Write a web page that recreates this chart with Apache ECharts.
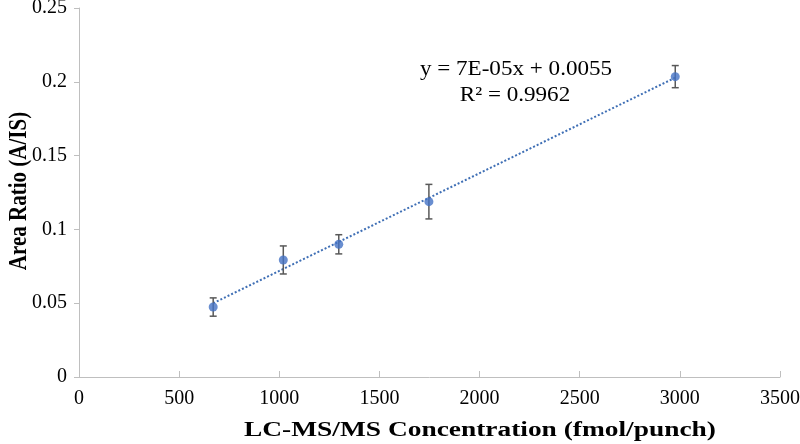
<!DOCTYPE html>
<html><head><meta charset="utf-8">
<script src="https://cdn.jsdelivr.net/npm/echarts@6/dist/echarts.min.js"></script>
<style>html,body{margin:0;padding:0;background:#fff}#c{width:800px;height:444px}</style>
</head><body><div id="c"></div>
<script>
const concentration = [670, 1020, 1297, 1747, 2977];
const areaRatio = [0.0474, 0.0793, 0.0899, 0.1188, 0.2035];
const errorSD = [0.0062, 0.0095, 0.0065, 0.0117, 0.0075];
const equationText = 'y = 7E-05x + 0.0055';
const r2Text = 'R² = 0.9962';
const xTitle = 'LC-MS/MS Concentration (fmol/punch)';
const yTitle = 'Area Ratio (A/IS)';

// least-squares fit of the displayed data for the trendline
const n = concentration.length;
const mx = concentration.reduce((a,b)=>a+b,0)/n;
const my = areaRatio.reduce((a,b)=>a+b,0)/n;
let sxy=0, sxx=0;
for (let i=0;i<n;i++){sxy+=(concentration[i]-mx)*(areaRatio[i]-my);sxx+=(concentration[i]-mx)**2;}
const slope = sxy/sxx, icpt = my - slope*mx;
const xmin = Math.min(...concentration), xmax = Math.max(...concentration);
const trend = [[xmin, icpt+slope*xmin],[xmax, icpt+slope*xmax]];

const font = 'Liberation Serif';
const chart = echarts.init(document.getElementById('c'));
chart.setOption({
  animation:false,
  grid:{left:79,right:20,top:8,bottom:67,containLabel:false,outerBoundsMode:'none'},
  xAxis:{type:'value',min:0,max:3500,interval:500,
    axisLine:{lineStyle:{color:'#bfbfbf',width:1}},
    axisTick:{show:true,inside:true,length:6,lineStyle:{color:'#bfbfbf'}},
    axisLabel:{fontFamily:font,fontSize:20,color:'#000',margin:12,formatter:v=>String(v)},
    splitLine:{show:false}},
  yAxis:{type:'value',min:0,max:0.25,interval:0.05,
    axisLine:{show:true,lineStyle:{color:'#bfbfbf',width:1}},
    axisTick:{show:true,length:5,lineStyle:{color:'#bfbfbf'}},
    axisLabel:{fontFamily:font,fontSize:20,color:'#000',margin:12},
    splitLine:{show:false}},
  series:[
    {type:'line',data:trend,symbol:'none',z:1,
      lineStyle:{color:'#3f6fb5',width:2,type:[2,2]}},
    {type:'custom',z:2,
      data:concentration.map((x,i)=>[x,areaRatio[i]-errorSD[i],areaRatio[i]+errorSD[i]]),
      renderItem:function(params,api){
        const lo=api.coord([api.value(0),api.value(1)]);
        const hi=api.coord([api.value(0),api.value(2)]);
        const w=3.5, st={stroke:'#595959',lineWidth:1.5};
        return {type:'group',children:[
          {type:'line',shape:{x1:lo[0],y1:lo[1],x2:hi[0],y2:hi[1]},style:st},
          {type:'line',shape:{x1:lo[0]-w,y1:lo[1],x2:lo[0]+w,y2:lo[1]},style:st},
          {type:'line',shape:{x1:hi[0]-w,y1:hi[1],x2:hi[0]+w,y2:hi[1]},style:st}
        ]};
      }},
    {type:'scatter',z:3,data:concentration.map((x,i)=>[x,areaRatio[i]]),
      symbol:'circle',symbolSize:9,itemStyle:{color:'#4472c4'}}
  ],
  graphic:[
    {type:'text',x:516,y:69,scaleX:1.1,style:{text:equationText,align:'center',verticalAlign:'middle',font:'21px "Liberation Serif"',fill:'#000'}},
    {type:'text',x:515,y:95,scaleX:1.1,style:{text:r2Text,align:'center',verticalAlign:'middle',font:'21px "Liberation Serif"',fill:'#000'}},
    {type:'text',x:480,y:431,scaleX:1.37,style:{text:xTitle,align:'center',verticalAlign:'middle',font:'bold 20px "Liberation Serif"',fill:'#000'}},
    {type:'text',x:19,y:191,rotation:Math.PI/2,scaleY:1.2,style:{text:yTitle,align:'center',verticalAlign:'middle',font:'bold 21px "Liberation Serif"',fill:'#000'}}
  ]
});
</script></body></html>
